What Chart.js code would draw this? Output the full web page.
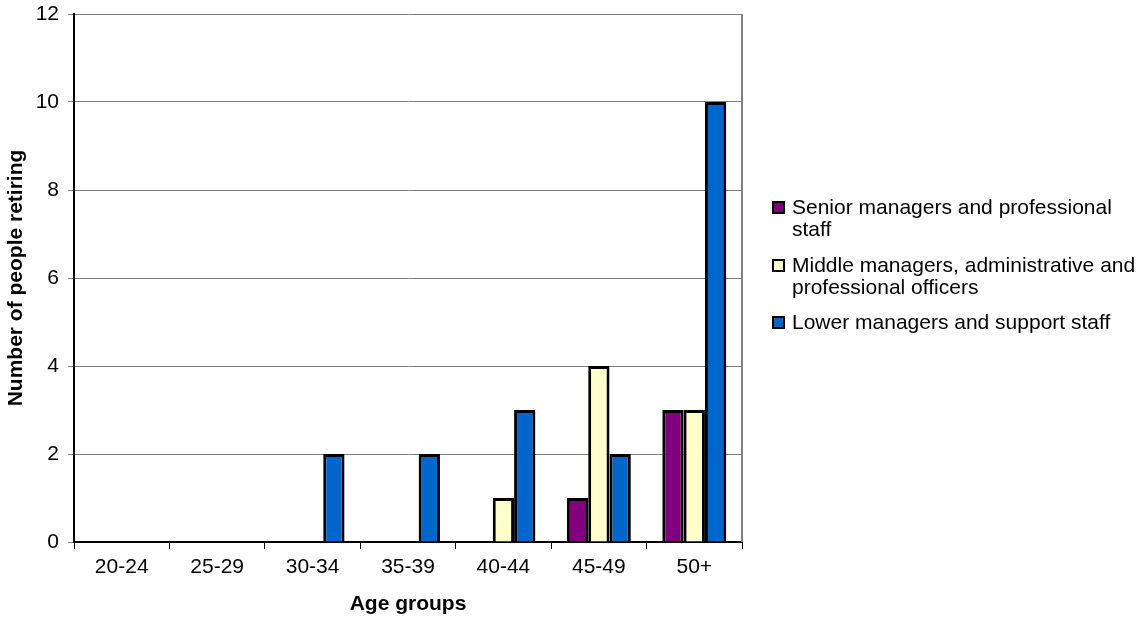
<!DOCTYPE html>
<html>
<head>
<meta charset="utf-8">
<script src="https://cdn.jsdelivr.net/npm/chart.js@4.4.1/dist/chart.umd.min.js"></script>
<style>
  html, body { margin: 0; padding: 0; background: #fff; }
  #wrap { position: relative; width: 1141px; height: 621px; }
  #c { position: absolute; left: 0; top: 0; }
  #legend { position: absolute; left: 772px; top: 0; width: 369px; font-family: "Liberation Sans", Arial, sans-serif; font-size: 21px; color: #000; }
  .item { position: absolute; left: 0; display: flex; align-items: flex-start; line-height: 22px; }
  .box { width: 9px; height: 9px; border: 2px solid #000; margin-top: 5px; margin-right: 7px; flex: none; }
  .txt { width: 350px; }
</style>
</head>
<body>
<div id="wrap">
  <canvas id="c" width="1141" height="621"></canvas>
  <div id="legend"></div>
</div>
<script>
const categories = ["20-24", "25-29", "30-34", "35-39", "40-44", "45-49", "50+"];
const seriesNames = [
  "Senior managers and professional staff",
  "Middle managers, administrative and professional officers",
  "Lower managers and support staff"
];
const seniorValues = [0, 0, 0, 0, 0, 1, 3];
const middleValues = [0, 0, 0, 0, 1, 4, 3];
const lowerValues  = [0, 0, 2, 2, 3, 2, 10];
const seriesColors = ["#800080", "#FFFFCC", "#0066CC"];
const yTickValues = [0, 2, 4, 6, 8, 10, 12];

const FONT = "'Liberation Sans', Arial, sans-serif";

const rightBorder = {
  id: 'rightBorder',
  afterDraw(chart) {
    const a = chart.chartArea, ctx = chart.ctx;
    ctx.save();
    ctx.strokeStyle = '#808080';
    ctx.lineWidth = 2;
    ctx.beginPath();
    ctx.moveTo(a.right, a.top);
    ctx.lineTo(a.right, a.bottom);
    ctx.stroke();
    ctx.restore();
  }
};

const mk = (label, data, color) => ({
  label, data, backgroundColor: color, borderColor: '#000', borderWidth: 3,
  categoryPercentage: 0.67, barPercentage: 1.0
});

new Chart(document.getElementById('c'), {
  type: 'bar',
  data: {
    labels: categories,
    datasets: [
      mk(seriesNames[0], seniorValues, seriesColors[0]),
      mk(seriesNames[1], middleValues, seriesColors[1]),
      mk(seriesNames[2], lowerValues, seriesColors[2])
    ]
  },
  options: {
    responsive: false,
    animation: false,
    devicePixelRatio: 1,
    layout: { padding: { left: 0, right: 399, top: 0, bottom: 0 } },
    plugins: { legend: { display: false }, tooltip: { enabled: false } },
    scales: {
      x: {
        offset: true,
        grid: { offset: true, drawOnChartArea: false, drawTicks: true, tickLength: 7, color: '#000', lineWidth: 1 },
        border: { color: '#000', width: 2 },
        ticks: { color: '#000', font: { family: FONT, size: 21 }, padding: 6, maxRotation: 0 },
        title: { display: true, text: 'Age groups', color: '#000', font: { family: FONT, size: 21, weight: 'bold' }, padding: { top: 6 } },
        afterFit(s) { s.height = 79; }
      },
      y: {
        min: 0, max: 12,
        afterBuildTicks(s) { s.ticks = yTickValues.map(v => ({ value: v })); },
        grid: { color: '#808080', lineWidth: 1, drawTicks: true, tickLength: 6, tickColor: '#808080' },
        border: { color: '#000', width: 2 },
        ticks: { color: '#000', font: { family: FONT, size: 21 }, padding: 9 },
        title: { display: true, text: 'Number of people retiring', color: '#000', font: { family: FONT, size: 21, weight: 'bold' }, padding: { bottom: 0 } },
        afterFit(s) { s.width = 74; s.paddingTop = 14; }
      }
    }
  },
  plugins: [rightBorder]
});

const legend = document.getElementById('legend');
const itemTops = [196, 254, 311];
seriesNames.forEach((name, i) => {
  const it = document.createElement('div');
  it.className = 'item';
  it.style.top = itemTops[i] + 'px';
  it.innerHTML = '<div class="box" style="background:' + seriesColors[i] + '"></div><div class="txt"></div>';
  it.querySelector('.txt').textContent = name;
  legend.appendChild(it);
});
</script>
</body>
</html>
